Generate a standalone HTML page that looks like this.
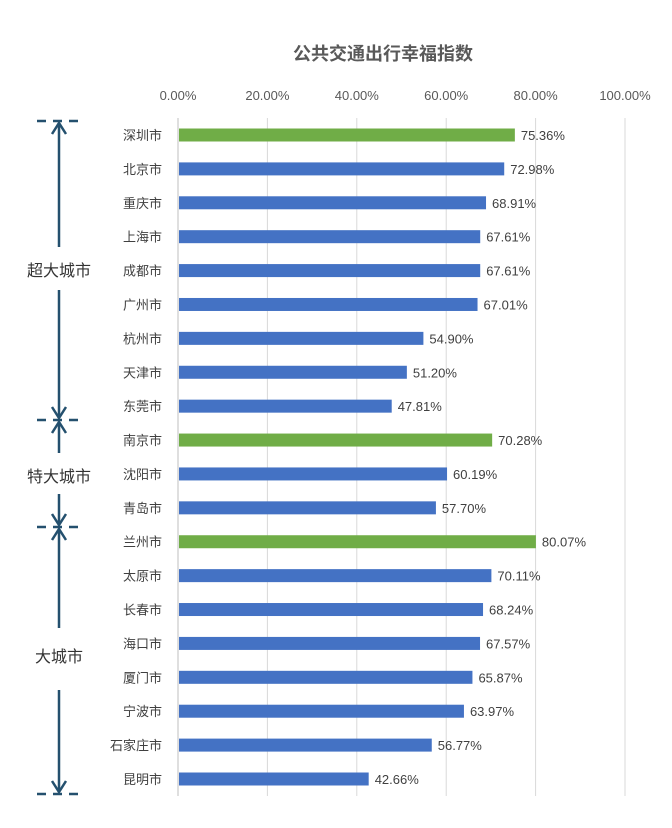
<!DOCTYPE html>
<html><head><meta charset="utf-8">
<style>
body{margin:0;background:#fff;}
svg{display:block;font-family:"Liberation Sans","Noto Sans CJK SC",sans-serif;}
</style></head>
<body>
<svg id="chart" width="672" height="828">
<text x="383" y="60" text-anchor="middle" font-size="18" font-weight="bold" fill="#595959">公共交通出行幸福指数</text>
<g id="grid"></g>
<g id="bars"></g>
<g id="brackets" stroke="#24506e" stroke-width="2.5" fill="none">
  <line x1="37" y1="121" x2="82" y2="121" stroke-dasharray="9,7"/>
  <line x1="37" y1="420" x2="82" y2="420" stroke-dasharray="9,7"/>
  <line x1="37" y1="527" x2="82" y2="527" stroke-dasharray="9,7"/>
  <line x1="37" y1="794" x2="82" y2="794" stroke-dasharray="9,7"/>
  <line x1="59" y1="247" x2="59" y2="123"/><polyline points="52,134 59,123 66,134"/>
  <line x1="59" y1="290" x2="59" y2="418"/><polyline points="52,407 59,418 66,407"/>
  <line x1="59" y1="453" x2="59" y2="422"/><polyline points="52,433 59,422 66,433"/>
  <line x1="59" y1="494" x2="59" y2="525"/><polyline points="52,514 59,525 66,514"/>
  <line x1="59" y1="628" x2="59" y2="529"/><polyline points="52,540 59,529 66,540"/>
  <line x1="59" y1="690" x2="59" y2="792"/><polyline points="52,781 59,792 66,781"/>
</g>
<text x="59" y="276" text-anchor="middle" font-size="16" fill="#333">超大城市</text>
<text x="59" y="482" text-anchor="middle" font-size="16" fill="#333">特大城市</text>
<text x="59" y="662" text-anchor="middle" font-size="16" fill="#333">大城市</text>
</svg>
<script>
const cities=["深圳市","北京市","重庆市","上海市","成都市","广州市","杭州市","天津市","东莞市","南京市","沈阳市","青岛市","兰州市","太原市","长春市","海口市","厦门市","宁波市","石家庄市","昆明市"];
const values=[75.36,72.98,68.91,67.61,67.61,67.01,54.90,51.20,47.81,70.28,60.19,57.70,80.07,70.11,68.24,67.57,65.87,63.97,56.77,42.66];
const highlight=[true,false,false,false,false,false,false,false,false,true,false,false,true,false,false,false,false,false,false,false];
const ticks=[0,20,40,60,80,100];
const NS="http://www.w3.org/2000/svg";
const x0=178,x1=625,y0=135,y1=779;
const xs=v=>x0+(x1-x0)*v/100;
const ys=i=>y0+(y1-y0)*i/(cities.length-1);
function mk(tag,attrs,parent){const e=document.createElementNS(NS,tag);for(const k in attrs)e.setAttribute(k,attrs[k]);parent.appendChild(e);return e;}
const grid=document.getElementById('grid'),bars=document.getElementById('bars');
ticks.forEach(t=>{
  const l=mk('line',{x1:xs(t),x2:xs(t),y1:118,y2:796,stroke:t===0?'#bfbfbf':'#d9d9d9','stroke-width':1},grid);
  
  
  const tx=mk('text',{x:xs(t),y:100,'text-anchor':'middle','font-size':13,fill:'#595959'},grid);
  tx.textContent=t.toFixed(2)+'%';
  
  
});
cities.forEach((c,i)=>{
  const y=ys(i);
  const lb=mk('text',{x:162,y:y+5,'text-anchor':'end','font-size':13,fill:'#404040'},bars);
  lb.textContent=c;
  
  
  const r=mk('rect',{x:x0+1,y:y-6.5,width:xs(values[i])-x0-1,height:13,fill:highlight[i]?'#70ad47':'#4472c4'},bars);
  
  
  const v=mk('text',{x:xs(values[i])+6,y:y+5,'font-size':13,fill:'#404040'},bars);
  v.textContent=values[i].toFixed(2)+'%';
  
  
});
</script>
</body></html>
